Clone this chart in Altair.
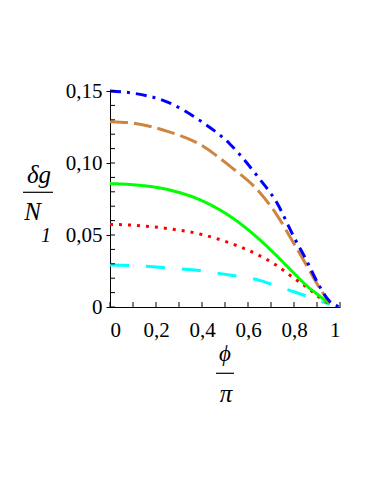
import altair as alt
import pandas as pd

# shared x grid (phi / pi)
x_vals = [0, 0.1, 0.25, 0.39, 0.52, 0.64, 0.725, 0.8, 0.855, 0.91, 0.955]
blue_x = x_vals + [0.98, 1.0]
blue_y = [0.1500, 0.1485, 0.1423, 0.1296, 0.1134, 0.0910, 0.0725, 0.0485, 0.0322, 0.0146, 0.0040, 0.0012, 0.0]
brown_y = [0.1287, 0.1277, 0.1220, 0.1130, 0.0980, 0.0815, 0.0640, 0.0440, 0.0288, 0.0135, 0.0030]
green_y = [0.0857, 0.0849, 0.0816, 0.0745, 0.0632, 0.0483, 0.0355, 0.0234, 0.0148, 0.0078, 0.0022]
red_y = [0.0574, 0.0568, 0.0545, 0.0507, 0.0445, 0.0365, 0.0288, 0.0200, 0.0138, 0.0068, 0.0020]
cyan_y = [0.0292, 0.0288, 0.0272, 0.0253, 0.0222, 0.0190, 0.0145, 0.0106, 0.0075, 0.0042, 0.0020]

x_major = [0, 0.2, 0.4, 0.6, 0.8, 1.0]
x_minor = [0, 0.1, 0.2, 0.3, 0.4, 0.5, 0.6, 0.7, 0.8, 0.9, 1.0]
y_major = [0, 0.05, 0.10, 0.15]
y_minor = [0, 0.01, 0.02, 0.03, 0.04, 0.05, 0.06, 0.07, 0.08, 0.09, 0.10,
           0.11, 0.12, 0.13, 0.14, 0.15]

W, H = 230, 216
FONT = "Liberation Serif, Times New Roman, serif"

xscale = alt.Scale(domain=[0, 1], nice=False, zero=False)
yscale = alt.Scale(domain=[0, 0.15], nice=False, zero=False)

xaxis = alt.Axis(values=x_major, title=None, grid=False, ticks=False,
                 labelPadding=12, labelFont=FONT, labelFontSize=21,
                 labelColor="black", domainColor="black", domainWidth=1,
                 labelExpr="datum.value == 0 ? '0' : datum.value == 1 ? '1' : replace(format(datum.value, '.1f'), '.', ',')")
yaxis = alt.Axis(values=y_major, title=None, grid=False, ticks=True, tickSize=4,
                 tickColor="black", labelPadding=4, labelFont=FONT, labelFontSize=21,
                 labelColor="black", domainColor="black", domainWidth=1,
                 labelExpr="datum.value == 0 ? '0' : replace(format(datum.value, '.2f'), '.', ',')")

series = [
    ("cyan", x_vals, cyan_y, "#00ffff", [19, 17]),
    ("red", x_vals, red_y, "#ff0000", [3, 6]),
    ("green", x_vals, green_y, "#00ff00", [1, 0]),
    ("brown", x_vals, brown_y, "#cd853f", [18, 6]),
    ("blue", blue_x, blue_y, "#0000ff", [11, 6, 3, 6]),
]

layers = []
for name, xs, ys, col, dash in series:
    df = pd.DataFrame({"x": xs, "y": ys})
    layers.append(
        alt.Chart(df).mark_line(color=col, strokeWidth=3, strokeDash=dash,
                                interpolate="monotone", clip=False)
        .encode(x=alt.X("x:Q", scale=xscale, axis=xaxis),
                y=alt.Y("y:Q", scale=yscale, axis=yaxis))
    )

# inner tick marks
xt = alt.Chart(pd.DataFrame({"x": x_minor})).mark_rule(color="black", strokeWidth=1).encode(
    x=alt.X("x:Q", scale=xscale, axis=xaxis), y=alt.value(H), y2=alt.value(H - 5))
yt = alt.Chart(pd.DataFrame({"y": y_minor})).mark_rule(color="black", strokeWidth=1).encode(
    y=alt.Y("y:Q", scale=yscale, axis=yaxis), x=alt.value(0), x2=alt.value(5))

# axis titles as fractions
def txt(s, x, y, size, italic=True):
    return alt.Chart(pd.DataFrame({"t": [s]})).mark_text(
        font=FONT, fontSize=size, fontStyle="italic" if italic else "normal",
        align="center", baseline="alphabetic", color="black"
    ).encode(x=alt.value(x), y=alt.value(y), text="t:N")

def bar(x1, x2, y):
    return alt.Chart(pd.DataFrame({"a": [0]})).mark_rule(color="black", strokeWidth=1.2).encode(
        x=alt.value(x1), x2=alt.value(x2), y=alt.value(y))

titles = [
    txt("δg", -71, 92, 25),
    bar(-87, -57, 101.3),
    txt("N", -77.5, 129, 25),
    txt("1", -64, 150.7, 20),
    txt("ϕ", 115, 269.5, 23),
    bar(106, 124, 282.3),
    txt("π", 116, 310.7, 25),
]

chart = alt.layer(*layers, xt, yt, *titles).properties(
    width=W, height=H,
    autosize=alt.AutoSizeParams(type="none"),
    padding={"left": 102, "top": 83, "right": 26, "bottom": 160},
).configure_view(stroke=None)

chart.save("out.html", embed_options={"renderer": "svg", "actions": False})
